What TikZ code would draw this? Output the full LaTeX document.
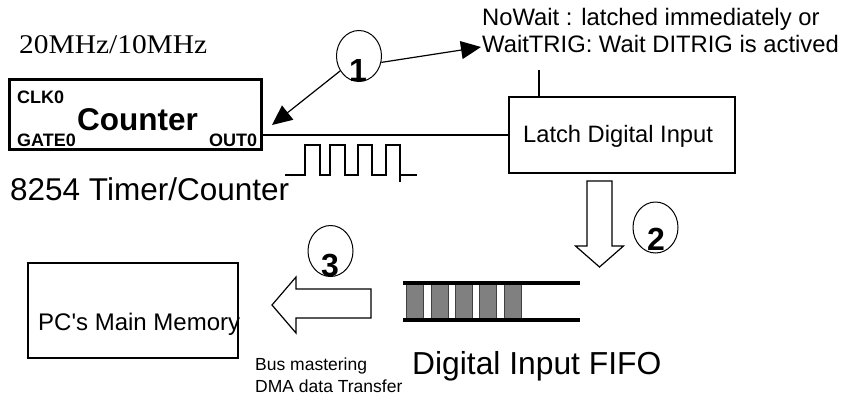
\documentclass[tikz,border=0pt]{standalone}
\usepackage{fontspec}
\setmainfont{Liberation Sans}
\newfontfamily\serifff{Liberation Serif}
\usetikzlibrary{arrows.meta,shapes.geometric}
\definecolor{fifogray}{HTML}{808080}
\definecolor{fifoedge}{HTML}{404040}
\begin{document}
\begin{tikzpicture}[x=1pt,y=-1pt,
  txt/.style={inner sep=0pt, anchor=base west},
  box/.style={draw, line width=1.2pt, rectangle, inner sep=0pt},
  circ/.style={draw, ellipse, line width=1pt, minimum width=45pt, minimum height=51pt, inner sep=0pt},
  digit/.style={inner sep=0pt, anchor=base, font=\fontsize{32}{36}\selectfont\bfseries},
  conn/.style={line width=1.2pt, -{Triangle[length=20pt,width=18pt]}},
  wire/.style={line width=1.2pt},
  bigarrow/.style={draw, line width=1.2pt, fill=white, line join=miter},
  fifoline/.style={line width=3.5pt},
  fifoblock/.style={fill=fifogray, draw=fifoedge, line width=0.6pt},
]
\useasboundingbox (0,0) rectangle (844,397);

% Counter box
\node[box, line width=3.5pt, minimum width=252pt, minimum height=70pt] (counter) at (135.5,114.5) {};
\node[txt, font=\fontsize{18}{20}\selectfont\bfseries] (clk) at (17,103) {CLK0};
\node[txt, font=\fontsize{31.5}{34}\selectfont\bfseries] (ctr) at (77,130) {Counter};
\node[txt, font=\fontsize{18}{20}\selectfont\bfseries] (gate) at (17,146) {GATE0};
\node[txt, font=\fontsize{18}{20}\selectfont\bfseries] (out) at (209,146) {OUT0};
\node[txt, font=\serifff\fontsize{27}{30}\selectfont] (freq) at (19,53) {\scalebox{1.09}[1]{20MHz/10MHz}};
\node[txt, font=\fontsize{31.5}{34}\selectfont] (timer) at (10,200) {8254 Timer/Counter};

% Latch
\node[box, minimum width=226pt, minimum height=76pt] (latch) at (622,135) {};
\node[txt, font=\fontsize{23.7}{28}\selectfont] (latchtxt) at (523,142) {Latch Digital Input};
\node[txt, font=\fontsize{23.8}{28}\selectfont] (nw1) at (482,25) {NoWait : latched immediately or};
\node[txt, font=\fontsize{23.8}{28}\selectfont] (nw2) at (482,52) {WaitTRIG: Wait DITRIG is actived};
\coordinate (lt) at (539,70);
\draw[wire] (lt) -- (lt |- latch.north);

% signal line
\draw[wire] (latch.west) -- (latch.west -| counter.east);

% pulse train
\draw[wire, line join=miter] (285,175) -- (305,175) -- (305,145) -- (320,145) -- (320,175) -- (330,175) -- (330,145) -- (345,145) -- (345,175) -- (358,175) -- (358,145) -- (372,145) -- (372,175) -- (386,175) -- (386,145) -- (400,145) -- (400,182);
\draw[wire] (400,175) -- (417,175);

% circle 1 and arrows
\node[circ] (c1) at (359,56) {};
\node[digit] (d1) at (358,81) {1};
\coordinate (t1) at (272,125);
\coordinate (t2) at (481,47);
\draw[conn] (c1) -- (t1);
\draw[conn] (c1.-16) -- (t2);

% down arrow and circle 2
\draw[bigarrow] (587,181) -- (612,181) -- (612,246) -- (623.5,246) -- (599.5,267) -- (575.5,246) -- (587,246) -- cycle;
\node[circ] (c2) at (655.5,227.5) {};
\node[digit] (d2) at (656,250) {2};

% FIFO
\foreach \i in {0,...,4} {
  \path[fifoblock] (406.5+24.4*\i,284) rectangle (423.5+24.4*\i,319);
}
\draw[fifoline] (403,283) -- (580,283);
\draw[fifoline] (403,320) -- (580,320);
\node[txt, font=\fontsize{31.8}{36}\selectfont] (fifo) at (412,374) {Digital Input FIFO};

% left arrow and circle 3
\draw[bigarrow] (371,289) -- (371,318) -- (296,318) -- (296,333) -- (272,305) -- (296,277) -- (296,289) -- cycle;
\node[circ] (c3) at (330.5,251) {};
\node[digit] (d3) at (330,276) {3};

% PC memory
\node[box, minimum width=210pt, minimum height=95pt] (pc) at (133,310.5) {};
\node[txt, font=\fontsize{24}{28}\selectfont] (pctxt) at (38,330) {PC\textquotesingle s Main Memory};
\node[txt, font=\fontsize{17.5}{20}\selectfont] (bus1) at (255,370) {Bus mastering};
\node[txt, font=\fontsize{17.5}{20}\selectfont] (bus2) at (255,392) {DMA data Transfer};
\end{tikzpicture}
\end{document}
